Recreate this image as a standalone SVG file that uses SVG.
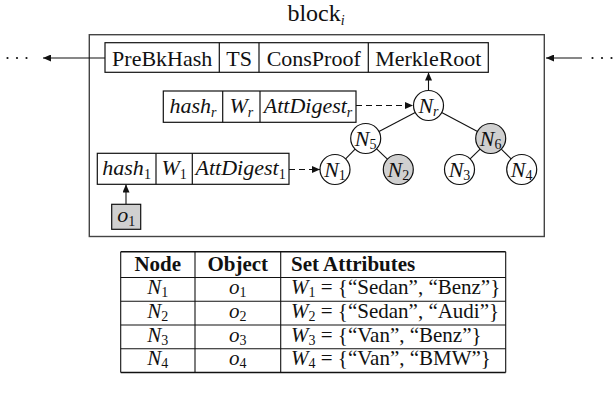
<svg xmlns="http://www.w3.org/2000/svg" width="613" height="393" viewBox="0 0 613 393" font-family="'Liberation Serif', 'DejaVu Serif', serif">
  <style>
    text { font-family: "Liberation Serif", "DejaVu Serif", serif; fill: #111; }
    .t24 { font-size: 24px; }
    .t22 { font-size: 22px; }
    .t21 { font-size: 21px; }
    .it { font-style: italic; }
    .bold { font-weight: bold; }
    .sub { font-size: 14px; font-style: normal; }
    .subi { font-size: 14px; font-style: italic; }
    .box { fill: #fff; stroke: #111; stroke-width: 1.2; }
    .gray { fill: #d0d0d0; stroke: #111; stroke-width: 1.2; }
    .div { stroke: #111; stroke-width: 1.2; }
    .frame { fill: none; stroke: #444; stroke-width: 1.4; }
    .edge { stroke: #111; stroke-width: 1.1; fill: none; }
    .dash { stroke: #111; stroke-width: 1.1; fill: none; stroke-dasharray: 6 4; }
    .dot { fill: #111; }
    .rule { stroke: #111; stroke-width: 1.1; }
    .rule-thick { stroke: #111; stroke-width: 1.6; }
  </style>
  <defs>
    <marker id="arrow" markerUnits="userSpaceOnUse" markerWidth="9" markerHeight="7" refX="8" refY="3.5" orient="auto">
      <path d="M0,0 L8,3.5 L0,7 Z" fill="#111"/>
    </marker>
  </defs>

  <!-- block title -->
  <text class="t24" x="316" y="21" text-anchor="middle">block<tspan class="subi" dy="4">i</tspan></text>

  <!-- block frame -->
  <rect class="frame" x="89.3" y="34.7" width="455" height="201.8"/>

  <!-- connectors -->
  <g id="connectors">
    <line class="edge" x1="105" y1="58" x2="43" y2="58" marker-end="url(#arrow)"/>
    <line class="edge" x1="582" y1="58" x2="546" y2="58" marker-end="url(#arrow)"/>
    <line class="edge" x1="428.5" y1="90.5" x2="428.5" y2="72.5" marker-end="url(#arrow)"/>
    <line class="dash" x1="356" y1="105.5" x2="413" y2="105.5" marker-end="url(#arrow)"/>
    <line class="dash" x1="289" y1="169.5" x2="320" y2="169.5" marker-end="url(#arrow)"/>
    <line class="edge" x1="126" y1="204.3" x2="126" y2="184.5" marker-end="url(#arrow)"/>
    <line class="edge" x1="415.2" y1="112.5" x2="379" y2="131.5"/>
    <line class="edge" x1="441.7" y1="112.5" x2="477.5" y2="131.5"/>
    <line class="edge" x1="355.1" y1="149.2" x2="345.6" y2="158.8"/>
    <line class="edge" x1="376.6" y1="148.8" x2="387.4" y2="159.2"/>
    <line class="edge" x1="480.1" y1="149.1" x2="470.1" y2="158.9"/>
    <line class="edge" x1="501.3" y1="149.1" x2="511.1" y2="158.9"/>
  </g>

  <!-- continuation dots -->
  <g id="dots-left">
    <circle class="dot" cx="7.5" cy="58" r="1.1"/>
    <circle class="dot" cx="17" cy="58" r="1.1"/>
    <circle class="dot" cx="26.5" cy="58" r="1.1"/>
  </g>
  <g id="dots-right">
    <circle class="dot" cx="592.5" cy="58" r="1.1"/>
    <circle class="dot" cx="602" cy="58" r="1.1"/>
    <circle class="dot" cx="611.5" cy="58" r="1.1"/>
  </g>

  <!-- block header -->
  <g id="header">
    <rect class="box" x="105" y="42.7" width="383.3" height="29.6"/>
    <line class="div" x1="219.3" y1="42.7" x2="219.3" y2="72.3"/>
    <line class="div" x1="259" y1="42.7" x2="259" y2="72.3"/>
    <line class="div" x1="368.3" y1="42.7" x2="368.3" y2="72.3"/>
    <text class="t22" x="162.2" y="65.5" text-anchor="middle">PreBkHash</text>
    <text class="t22" x="239.2" y="65.5" text-anchor="middle">TS</text>
    <text class="t22" x="313.7" y="65.5" text-anchor="middle">ConsProof</text>
    <text class="t22" x="428.3" y="65.5" text-anchor="middle">MerkleRoot</text>
  </g>

  <!-- root entry -->
  <g id="entry-r">
    <rect class="box" x="163.3" y="91" width="192.7" height="31.3"/>
    <line class="div" x1="222.7" y1="91" x2="222.7" y2="122.3"/>
    <line class="div" x1="260" y1="91" x2="260" y2="122.3"/>
    <text class="t22 it" x="193" y="113" text-anchor="middle">hash<tspan class="subi" dy="4">r</tspan></text>
    <text class="t22 it" x="241.3" y="113" text-anchor="middle">W<tspan class="subi" dy="4">r</tspan></text>
    <text class="t22 it" x="308" y="113" text-anchor="middle">AttDigest<tspan class="subi" dy="4">r</tspan></text>
  </g>

  <!-- leaf entry -->
  <g id="entry-1">
    <rect class="box" x="97.3" y="153.3" width="191.7" height="31"/>
    <line class="div" x1="156" y1="153.3" x2="156" y2="184.3"/>
    <line class="div" x1="192.3" y1="153.3" x2="192.3" y2="184.3"/>
    <text class="t22 it" x="126.6" y="175" text-anchor="middle">hash<tspan class="sub" dy="4">1</tspan></text>
    <text class="t22 it" x="174.2" y="175" text-anchor="middle">W<tspan class="sub" dy="4">1</tspan></text>
    <text class="t22 it" x="240.6" y="175" text-anchor="middle">AttDigest<tspan class="sub" dy="4">1</tspan></text>
  </g>

  <!-- object -->
  <g id="o1">
    <rect class="gray" x="111.7" y="204.3" width="29" height="25"/>
    <text class="t22 it" x="126.2" y="222" text-anchor="middle">o<tspan class="sub" dy="4">1</tspan></text>
  </g>

  <!-- tree nodes -->
  <g id="Nr">
    <circle class="box" cx="428.5" cy="105.5" r="15"/>
    <text class="t22 it" x="428.5" y="112.5" text-anchor="middle">N<tspan class="subi" dy="3">r</tspan></text>
  </g>
  <g id="N5">
    <circle class="box" cx="365.7" cy="138.5" r="15"/>
    <text class="t22 it" x="365.7" y="145.5" text-anchor="middle">N<tspan class="sub" dy="3">5</tspan></text>
  </g>
  <g id="N6">
    <circle class="gray" cx="490.7" cy="138.5" r="15"/>
    <text class="t22 it" x="490.7" y="145.5" text-anchor="middle">N<tspan class="sub" dy="3">6</tspan></text>
  </g>
  <g id="N1">
    <circle class="box" cx="335" cy="169.5" r="15"/>
    <text class="t22 it" x="335" y="176.5" text-anchor="middle">N<tspan class="sub" dy="3">1</tspan></text>
  </g>
  <g id="N2">
    <circle class="gray" cx="398.3" cy="169.5" r="15"/>
    <text class="t22 it" x="398.3" y="176.5" text-anchor="middle">N<tspan class="sub" dy="3">2</tspan></text>
  </g>
  <g id="N3">
    <circle class="box" cx="459.5" cy="169.5" r="15"/>
    <text class="t22 it" x="459.5" y="176.5" text-anchor="middle">N<tspan class="sub" dy="3">3</tspan></text>
  </g>
  <g id="N4">
    <circle class="box" cx="521.7" cy="169.5" r="15"/>
    <text class="t22 it" x="521.7" y="176.5" text-anchor="middle">N<tspan class="sub" dy="3">4</tspan></text>
  </g>

  <!-- attribute table -->
  <g id="table">
    <line class="rule-thick" x1="120.7" y1="251.7" x2="505.7" y2="251.7"/>
    <line class="rule" x1="120.7" y1="277.5" x2="505.7" y2="277.5"/>
    <line class="rule" x1="120.7" y1="301.2" x2="505.7" y2="301.2"/>
    <line class="rule" x1="120.7" y1="325" x2="505.7" y2="325"/>
    <line class="rule" x1="120.7" y1="348.7" x2="505.7" y2="348.7"/>
    <line class="rule-thick" x1="120.7" y1="372.5" x2="505.7" y2="372.5"/>
    <line class="rule" x1="120.7" y1="251.7" x2="120.7" y2="372.5"/>
    <line class="rule" x1="195" y1="251.7" x2="195" y2="372.5"/>
    <line class="rule" x1="280.7" y1="251.7" x2="280.7" y2="372.5"/>
    <line class="rule" x1="505.7" y1="251.7" x2="505.7" y2="372.5"/>

    <text class="t21 bold" x="157.8" y="271" text-anchor="middle">Node</text>
    <text class="t21 bold" x="237.8" y="271" text-anchor="middle">Object</text>
    <text class="t21 bold" x="291" y="271">Set Attributes</text>

    <text class="t21 it" x="157.8" y="294" text-anchor="middle">N<tspan class="sub" dy="3">1</tspan></text>
    <text class="t21 it" x="237.8" y="294" text-anchor="middle">o<tspan class="sub" dy="3">1</tspan></text>
    <text class="t21" x="291" y="294"><tspan class="it">W</tspan><tspan class="sub" dy="3">1</tspan><tspan dy="-3"> = {“Sedan”, “Benz”}</tspan></text>

    <text class="t21 it" x="157.8" y="317.7" text-anchor="middle">N<tspan class="sub" dy="3">2</tspan></text>
    <text class="t21 it" x="237.8" y="317.7" text-anchor="middle">o<tspan class="sub" dy="3">2</tspan></text>
    <text class="t21" x="291" y="317.7"><tspan class="it">W</tspan><tspan class="sub" dy="3">2</tspan><tspan dy="-3"> = {“Sedan”, “Audi”}</tspan></text>

    <text class="t21 it" x="157.8" y="341.5" text-anchor="middle">N<tspan class="sub" dy="3">3</tspan></text>
    <text class="t21 it" x="237.8" y="341.5" text-anchor="middle">o<tspan class="sub" dy="3">3</tspan></text>
    <text class="t21" x="291" y="341.5"><tspan class="it">W</tspan><tspan class="sub" dy="3">3</tspan><tspan dy="-3"> = {“Van”, “Benz”}</tspan></text>

    <text class="t21 it" x="157.8" y="365.2" text-anchor="middle">N<tspan class="sub" dy="3">4</tspan></text>
    <text class="t21 it" x="237.8" y="365.2" text-anchor="middle">o<tspan class="sub" dy="3">4</tspan></text>
    <text class="t21" x="291" y="365.2"><tspan class="it">W</tspan><tspan class="sub" dy="3">4</tspan><tspan dy="-3"> = {“Van”, “BMW”}</tspan></text>
  </g>
</svg>
